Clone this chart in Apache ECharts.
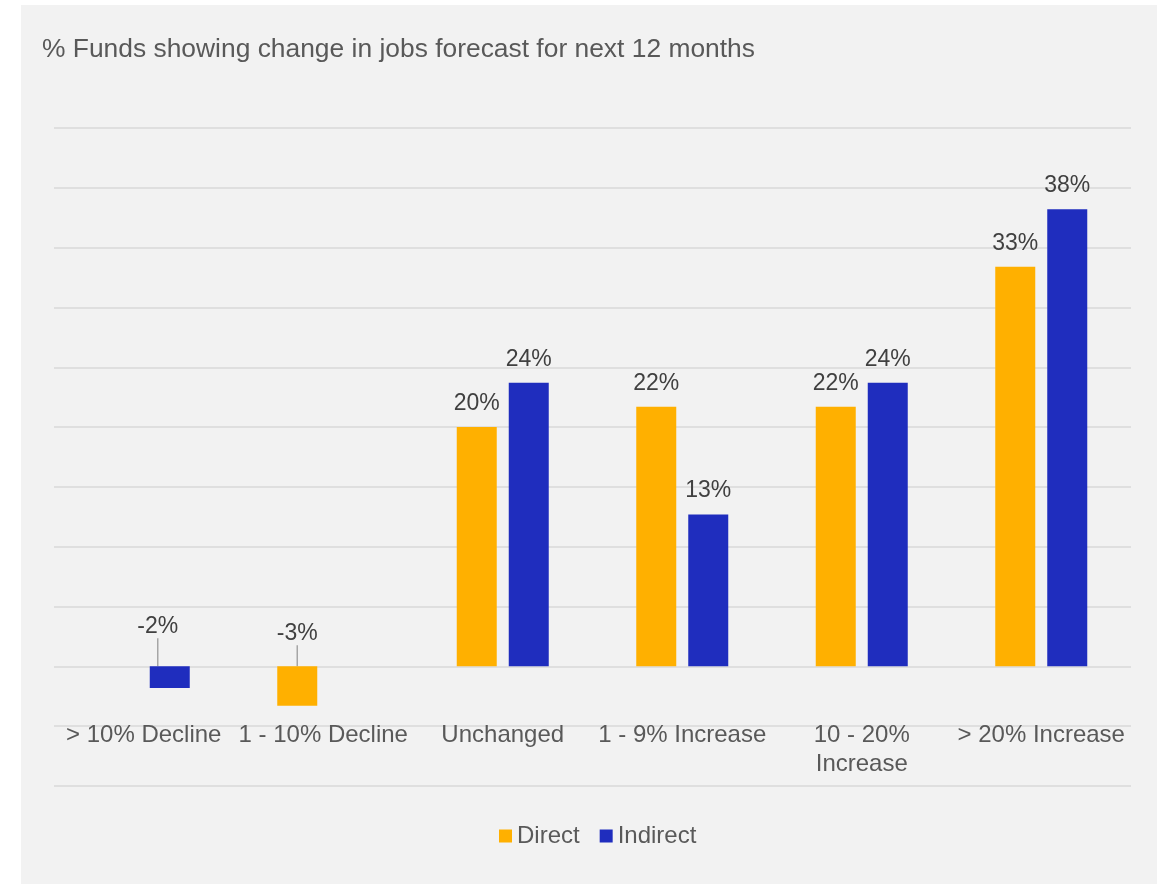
<!DOCTYPE html>
<html>
<head>
<meta charset="utf-8">
<script src="https://cdn.jsdelivr.net/npm/echarts@6/dist/echarts.min.js"></script>
<style>
html, body { margin: 0; padding: 0; background: #ffffff; }
#chart { position: absolute; left: 21px; top: 5px; width: 1136px; height: 879px; background: #f2f2f2; }
</style>
</head>
<body>
<div id="chart"></div>
<script>
// categories and values (percent)
var categories = ['> 10% Decline', '1 - 10% Decline', 'Unchanged', '1 - 9% Increase', '10 - 20%\nIncrease', '> 20% Increase'];
var directValues = [null, -3.3, 20.0, 21.7, 21.7, 33.4];
var indirectValues = [-1.8, null, 23.7, 12.7, 23.7, 38.2];
var seriesNames = ['Direct', 'Indirect'];

var font = '"Liberation Sans", Arial, sans-serif';

// negative bars get their label above the zero line with a leader line
function buildData(values) {
	return values.map(function (v) {
		if (v !== null && v < 0) {
			return { value: v, labelLine: { show: true, lineStyle: { color: '#a6a6a6', width: 1.5 } } };
		}
		return v;
	});
}

function makeLayout(values, dx, dy) {
	return function (p) {
		var v = values[p.dataIndex];
		if (v !== null && v < 0) return { dx: dx, dy: dy };
		return {};
	};
}

var chart = echarts.init(document.getElementById('chart'));
var labelOpt = {
	show: true,
	position: 'top',
	distance: 12,
	color: '#404040',
	fontSize: 23,
	fontFamily: font,
	formatter: function (p) { return Math.round(p.value) + '%'; }
};

var option = {
	animation: false,
	title: {
		text: '% Funds showing change in jobs forecast for next 12 months',
		left: 16,
		top: 27,
		textStyle: { color: '#595959', fontSize: 26.4, fontWeight: 'normal', fontFamily: font }
	},
	legend: {
		data: seriesNames,
		left: 473,
		top: 814,
		icon: 'rect',
		itemWidth: 13,
		itemHeight: 13,
		itemGap: 20,
		textStyle: { color: '#595959', fontSize: 24, fontFamily: font }
	},
	grid: { left: 33, right: 26, top: 123, bottom: 98, outerBoundsMode: 'none', containLabel: false },
	xAxis: {
		type: 'category',
		data: categories,
		axisLine: { show: false },
		axisTick: { show: false },
		axisLabel: {
			interval: 0,
			margin: -65,
			color: '#595959',
			fontSize: 24,
			lineHeight: 29,
			fontFamily: font,
			verticalAlign: 'top'
		}
	},
	yAxis: {
		type: 'value',
		min: -10,
		max: 45,
		interval: 5,
		axisLabel: { show: false },
		axisLine: { show: false },
		axisTick: { show: false },
		splitLine: { lineStyle: { color: '#d9d9d9', width: 1.5 } }
	},
	series: [
		{
			name: seriesNames[0],
			type: 'bar',
			barWidth: 40,
			barGap: '30%',
			itemStyle: { color: '#FFB000' },
			label: labelOpt,
			labelLayout: makeLayout(directValues, 0, -9),
			data: buildData(directValues)
		},
		{
			name: seriesNames[1],
			type: 'bar',
			barWidth: 40,
			barGap: '30%',
			itemStyle: { color: '#1F2DBE' },
			label: labelOpt,
			labelLayout: makeLayout(indirectValues, -12, -16),
			data: buildData(indirectValues)
		}
	]
};
chart.setOption(option);
</script>
</body>
</html>
